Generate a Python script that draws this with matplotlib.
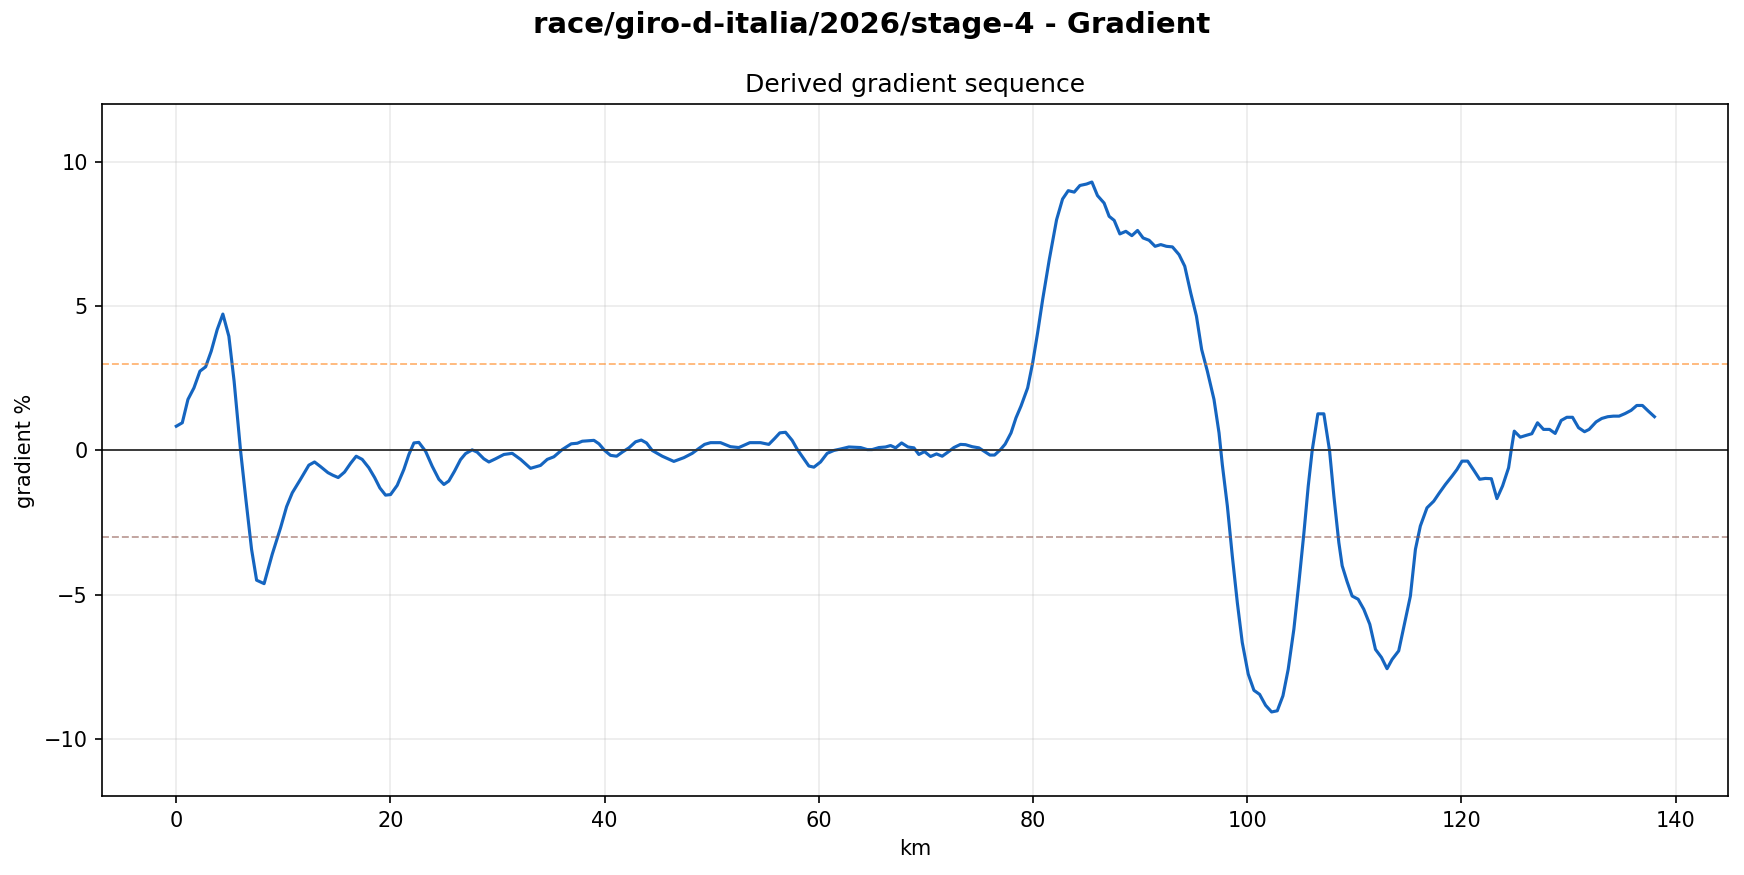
import matplotlib.pyplot as plt

# distance along stage (km) and derived gradient (%)
km = [0.0, 0.56, 1.09, 1.65, 2.21, 2.74, 3.26, 3.82, 4.35, 4.91, 5.4, 6.0,
      6.5, 7.03, 7.5, 8.2, 8.96, 9.74, 10.3, 10.83, 11.6, 12.38, 12.91,
      13.47, 14.16, 14.62, 15.12, 15.71, 16.27, 16.8, 17.36, 17.98, 18.52,
      19.01, 19.54, 20.01, 20.63, 21.25, 21.72, 22.19, 22.65, 23.28, 23.9,
      24.52, 24.99, 25.45, 25.98, 26.54, 27.01, 27.63, 28.1, 28.72, 29.19,
      29.81, 30.59, 31.37, 32.15, 33.08, 34.01, 34.64, 35.26, 36.04, 36.88,
      37.45, 37.91, 39.0, 39.47, 40.0, 40.55, 41.12, 41.64, 42.27, 42.89,
      43.42, 43.91, 44.44, 45.38, 46.46, 47.4, 48.18, 48.8, 49.33, 49.89,
      50.82, 51.75, 52.53, 53.56, 54.55, 55.33, 55.86, 56.36, 56.89, 57.51,
      58.0, 59.07, 59.54, 60.16, 60.78, 61.41, 62.03, 62.81, 63.9, 64.52,
      64.98, 65.61, 66.23, 66.7, 67.17, 67.73, 68.32, 68.88, 69.34, 69.87,
      70.43, 70.99, 71.52, 72.05, 72.61, 73.23, 73.7, 74.32, 74.95, 75.57,
      75.98, 76.41, 76.97, 77.4, 77.95, 78.41, 78.88, 79.5, 79.97, 80.43,
      80.9, 81.52, 82.2, 82.76, 83.29, 83.85, 84.38, 85.0, 85.5, 86.02,
      86.64, 87.11, 87.58, 88.11, 88.67, 89.23, 89.76, 90.28, 90.84, 91.4,
      91.93, 92.46, 93.02, 93.64, 94.17, 94.73, 95.26, 95.75, 96.28, 96.9,
      97.37, 97.68, 98.15, 98.61, 99.08, 99.54, 100.1, 100.63, 101.16,
      101.72, 102.28, 102.81, 103.34, 103.83, 104.36, 104.83, 105.3, 105.7,
      106.07, 106.6, 107.16, 107.69, 108.1, 108.56, 108.87, 109.33, 109.8,
      110.36, 110.89, 111.45, 111.98, 112.54, 113.06, 113.53, 114.15,
      114.71, 115.24, 115.71, 116.17, 116.79, 117.42, 117.95, 118.51,
      119.13, 119.59, 120.06, 120.59, 121.15, 121.71, 122.24, 122.8, 123.32,
      123.85, 124.41, 124.66, 124.94, 125.5, 126.02, 126.58, 127.11, 127.67,
      128.23, 128.76, 129.32, 129.85, 130.38, 130.94, 131.5, 131.93, 132.58,
      133.11, 133.67, 134.2, 134.73, 135.29, 135.85, 136.38, 136.91, 137.47,
      138.03]
gradient = [0.84, 0.96, 1.77, 2.17, 2.75, 2.9, 3.44, 4.19, 4.73, 3.96, 2.4,
            0.0, -1.7, -3.43, -4.5, -4.62, -3.6, -2.68, -1.95, -1.47, -1.0,
            -0.51, -0.4, -0.56, -0.77, -0.86, -0.94, -0.75, -0.45, -0.2,
            -0.31, -0.6, -0.94, -1.3, -1.55, -1.53, -1.21, -0.66, -0.14,
            0.26, 0.28, -0.03, -0.55, -1.0, -1.18, -1.06, -0.72, -0.32,
            -0.11, 0.02, -0.06, -0.29, -0.4, -0.29, -0.14, -0.1, -0.31,
            -0.62, -0.52, -0.31, -0.22, 0.03, 0.23, 0.25, 0.32, 0.35, 0.23,
            0.0, -0.17, -0.2, -0.06, 0.09, 0.3, 0.36, 0.26, 0.0, -0.2, -0.38,
            -0.25, -0.1, 0.07, 0.21, 0.27, 0.27, 0.13, 0.1, 0.27, 0.27, 0.21,
            0.41, 0.61, 0.63, 0.35, 0.03, -0.54, -0.58, -0.4, -0.1, 0.0, 0.05,
            0.12, 0.1, 0.03, 0.03, 0.1, 0.12, 0.17, 0.09, 0.26, 0.12, 0.09,
            -0.14, -0.04, -0.21, -0.12, -0.2, -0.06, 0.1, 0.21, 0.2, 0.13,
            0.09, -0.06, -0.16, -0.16, 0.03, 0.22, 0.61, 1.13, 1.54, 2.17,
            3.04, 4.08, 5.23, 6.62, 8.0, 8.72, 9.01, 8.96, 9.19, 9.24, 9.31,
            8.84, 8.58, 8.12, 7.98, 7.51, 7.6, 7.45, 7.63, 7.37, 7.29, 7.08,
            7.14, 7.08, 7.06, 6.79, 6.39, 5.46, 4.66, 3.5, 2.75, 1.77, 0.61,
            -0.5, -1.93, -3.66, -5.28, -6.66, -7.76, -8.32, -8.46, -8.84,
            -9.07, -9.03, -8.51, -7.59, -6.2, -4.58, -2.85, -1.24, 0.0, 1.27,
            1.27, 0.0, -1.6, -3.2, -4.0, -4.55, -5.05, -5.16, -5.51, -6.03,
            -6.9, -7.18, -7.57, -7.25, -6.95, -5.97, -5.05, -3.43, -2.62,
            -1.99, -1.76, -1.47, -1.18, -0.89, -0.66, -0.37, -0.37, -0.68,
            -1.0, -0.97, -0.98, -1.67, -1.23, -0.6, 0.02, 0.67, 0.46, 0.52,
            0.58, 0.96, 0.73, 0.73, 0.59, 1.04, 1.15, 1.15, 0.79, 0.65, 0.73,
            0.99, 1.11, 1.17, 1.19, 1.19, 1.28, 1.39, 1.56, 1.56, 1.36, 1.17]

steep_up = 3
steep_down = -3

fig, ax = plt.subplots(figsize=(11.627, 5.8334), dpi=150)
fig.subplots_adjust(left=0.0587, right=0.991, top=0.8806, bottom=0.0898)

ax.plot(km, gradient, color='#1565C0', linewidth=1.5)
ax.axhline(0, color='#333333', linewidth=0.9)
ax.axhline(steep_up, color='tab:orange', linestyle='--', linewidth=0.9, alpha=0.55)
ax.axhline(steep_down, color='tab:brown', linestyle='--', linewidth=0.9, alpha=0.55)

ax.set_ylim(-12, 12)
ax.grid(True, alpha=0.25)
ax.set_xlabel('km')
ax.set_ylabel('gradient %')
ax.set_title('Derived gradient sequence')
fig.suptitle('race/giro-d-italia/2026/stage-4 - Gradient', fontsize=14,
             fontweight='bold', y=0.987)

fig.savefig('out.png', dpi=150)
